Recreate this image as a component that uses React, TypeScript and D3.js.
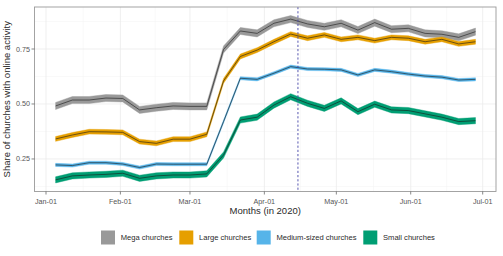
import React from "react";
import * as d3 from "d3";

// Weekly observation dates (2020)
const weeks = [
  "2020-01-05", "2020-01-12", "2020-01-19", "2020-01-26", "2020-02-02", "2020-02-09",
  "2020-02-16", "2020-02-23", "2020-03-01", "2020-03-08", "2020-03-15", "2020-03-22",
  "2020-03-29", "2020-04-05", "2020-04-12", "2020-04-19", "2020-04-26", "2020-05-03",
  "2020-05-10", "2020-05-17", "2020-05-24", "2020-05-31", "2020-06-07", "2020-06-14",
  "2020-06-21", "2020-06-28",
];

const megaShare = [
  0.491, 0.518, 0.518, 0.527, 0.525, 0.473, 0.483, 0.491, 0.489, 0.489, 0.748, 0.832,
  0.821, 0.867, 0.886, 0.864, 0.851, 0.867, 0.836, 0.870, 0.840, 0.844, 0.821, 0.817,
  0.803, 0.829,
];
const largeShare = [
  0.341, 0.359, 0.374, 0.373, 0.371, 0.329, 0.321, 0.340, 0.340, 0.362, 0.605, 0.716,
  0.745, 0.783, 0.818, 0.799, 0.814, 0.794, 0.803, 0.788, 0.803, 0.799, 0.783, 0.794,
  0.773, 0.783,
];
const mediumShare = [
  0.223, 0.220, 0.233, 0.233, 0.227, 0.211, 0.227, 0.226, 0.226, 0.226, 0.420, 0.617,
  0.612, 0.640, 0.670, 0.659, 0.658, 0.655, 0.632, 0.655, 0.647, 0.636, 0.627, 0.622,
  0.609, 0.612,
];
const smallShare = [
  0.155, 0.173, 0.177, 0.180, 0.185, 0.162, 0.173, 0.177, 0.177, 0.182, 0.268, 0.427,
  0.440, 0.495, 0.533, 0.503, 0.480, 0.514, 0.465, 0.499, 0.473, 0.470, 0.455, 0.440,
  0.420, 0.424,
];

// Half-width of the confidence band for each group
const bandHalfWidth = [0.016, 0.011, 0.007, 0.014];

const seriesNames = ["Mega churches", "Large churches", "Medium-sized churches", "Small churches"];
const seriesColors = ["#999999", "#E69F00", "#56B4E9", "#009E73"];
const seriesValues = [megaShare, largeShare, mediumShare, smallShare];

const yTicks = [0.25, 0.5, 0.75];
const yMinor = [0.125, 0.375, 0.625, 0.875];
const monthTicks = [
  "2020-01-01", "2020-02-01", "2020-03-01", "2020-04-01", "2020-05-01", "2020-06-01", "2020-07-01",
];
const referenceDate = "2020-04-15";

const W = 503;
const H = 256;
const panel = { left: 34.5, right: 496, top: 7, bottom: 191.5 };

const parse = d3.utcParse("%Y-%m-%d");
const fmt = d3.utcFormat("%b-%d");

export default function App() {
  const x = d3
    .scaleUtc()
    .domain([parse("2020-01-01")!, parse("2020-07-01")!])
    .range([46, 482.7]);

  const y = d3.scaleLinear().domain([0.102, 0.941]).range([panel.bottom, panel.top]);

  const dates = weeks.map((d) => parse(d)!);

  const area = d3.area<number>().x((_, i) => x(dates[i]));
  const line = d3
    .line<number>()
    .x((_, i) => x(dates[i]))
    .y((v) => y(v));

  // minor vertical grid halfway between month breaks
  const monthMinor = d3.pairs(monthTicks.map((m) => parse(m)!.getTime())).map(([a, b]) => new Date((a + b) / 2));

  const font = "'Liberation Sans', Arial, Helvetica, sans-serif";
  const legendKeys = [101, 179.3, 256.7, 363.3];
  const refX = x(parse(referenceDate)!);

  return (
    <svg
      width={W}
      height={H}
      style={{ position: "absolute", left: 0, top: 0, background: "#fff" }}
      fontFamily={font}
    >
      <rect x={0} y={0} width={W} height={H} fill="#fff" />
      {/* grid */}
      <g>
        {yMinor.map((t) => (
          <line key={"ym" + t} x1={panel.left} x2={panel.right} y1={y(t)} y2={y(t)} stroke="#f2f2f2" strokeWidth={0.5} />
        ))}
        {monthMinor.map((d, i) => (
          <line key={"xm" + i} x1={x(d)} x2={x(d)} y1={panel.top} y2={panel.bottom} stroke="#f2f2f2" strokeWidth={0.5} />
        ))}
        {yTicks.map((t) => (
          <line key={"y" + t} x1={panel.left} x2={panel.right} y1={y(t)} y2={y(t)} stroke="#ebebeb" strokeWidth={0.8} />
        ))}
        {monthTicks.map((m) => (
          <line key={"x" + m} x1={x(parse(m)!)} x2={x(parse(m)!)} y1={panel.top} y2={panel.bottom} stroke="#ebebeb" strokeWidth={0.8} />
        ))}
      </g>

      {/* confidence bands and lines */}
      {seriesValues.map((vals, s) => (
        <path
          key={"band" + s}
          d={area.y0((v) => y(v - bandHalfWidth[s])).y1((v) => y(v + bandHalfWidth[s]))(vals) || ""}
          fill={seriesColors[s]}
          stroke={seriesColors[s]}
          strokeWidth={0.4}
        />
      ))}
      {seriesValues.map((vals, s) => (
        <path key={"line" + s} d={line(vals) || ""} fill="none" stroke="#1a1a1a" strokeWidth={0.6} />
      ))}

      {/* reference date */}
      <line
        x1={refX}
        x2={refX}
        y1={panel.top}
        y2={panel.bottom}
        stroke="#4545a8"
        strokeWidth={0.9}
        strokeDasharray="2.2,2"
      />

      {/* panel border */}
      <rect
        x={panel.left}
        y={panel.top}
        width={panel.right - panel.left}
        height={panel.bottom - panel.top}
        fill="none"
        stroke="#9a9a9a"
        strokeWidth={0.9}
      />

      {/* y axis */}
      {yTicks.map((t) => (
        <g key={"yt" + t}>
          <line x1={panel.left - 3} x2={panel.left} y1={y(t)} y2={y(t)} stroke="#555" strokeWidth={0.7} />
          <text x={panel.left - 4.5} y={y(t)} dy="0.35em" textAnchor="end" fontSize={7.2} fill="#555">
            {d3.format(".2f")(t)}
          </text>
        </g>
      ))}
      <text
        transform={`translate(9.5,${(panel.top + panel.bottom) / 2}) rotate(-90)`}
        textAnchor="middle"
        fontSize={9.5}
        fill="#2a2a2a"
      >
        Share of churches with online activity
      </text>

      {/* x axis */}
      {monthTicks.map((m) => {
        const d = parse(m)!;
        return (
          <g key={"xt" + m}>
            <line x1={x(d)} x2={x(d)} y1={panel.bottom} y2={panel.bottom + 3} stroke="#555" strokeWidth={0.7} />
            <text x={x(d)} y={203.5} textAnchor="middle" fontSize={7.2} fill="#555">
              {fmt(d)}
            </text>
          </g>
        );
      })}
      <text x={(panel.left + panel.right) / 2} y={214} textAnchor="middle" fontSize={9.5} fill="#2a2a2a">
        Months (in 2020)
      </text>

      {/* legend */}
      {seriesNames.map((name, s) => (
        <g key={"lg" + s}>
          <rect x={legendKeys[s]} y={230.5} width={14} height={14} fill={seriesColors[s]} />
          <text x={legendKeys[s] + 19.7} y={240.3} fontSize={7.6} fill="#2a2a2a">
            {name}
          </text>
        </g>
      ))}
    </svg>
  );
}
